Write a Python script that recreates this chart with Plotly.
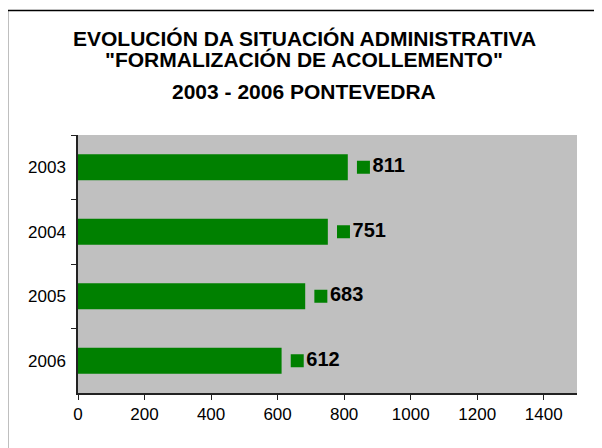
import plotly.graph_objects as go

# datos
anos = ["2003", "2004", "2005", "2006"]
valores = [811, 751, 683, 612]
titulo_lineas = [
    "EVOLUCIÓN DA SITUACIÓN ADMINISTRATIVA",
    "\"FORMALIZACIÓN DE ACOLLEMENTO\"",
    "2003 - 2006 PONTEVEDRA",
]
x_ticks = [0, 200, 400, 600, 800, 1000, 1200, 1400]

verde = "#008000"
gris = "#C0C0C0"
fuente = "Arial, Liberation Sans, sans-serif"

fig = go.Figure()

# barras
fig.add_trace(go.Bar(
    y=anos, x=valores, orientation="h",
    marker=dict(color=verde, line=dict(width=0)),
    width=0.4, showlegend=False, hoverinfo="x+y",
))

# etiqueta: cadro verde + valor
desfase = 47  # en unidades do eixo
fig.add_trace(go.Scatter(
    y=anos, x=[v + desfase for v in valores],
    mode="markers+text",
    marker=dict(symbol="square", size=13, color=verde),
    text=[f"<b>{v}</b>" for v in valores],
    textposition="middle right",
    textfont=dict(family=fuente, size=20, color="black"),
    showlegend=False, hoverinfo="skip",
))

# titulo en tres liñas (posicións en px da pantalla -> paper)
pos_y = [38.5, 59.5, 91.5]
for txt, py in zip(titulo_lineas, pos_y):
    fig.add_annotation(
        text=f"<b>{txt}</b>", xref="paper", yref="paper",
        x=(304 - 78) / 499, y=(393 - py) / 258,
        showarrow=False, xanchor="center", yanchor="middle",
        font=dict(family=fuente, size=21, color="black"),
    )

# marco do gráfico
fig.add_shape(
    type="rect", xref="paper", yref="paper",
    x0=(7.5 - 78) / 499, x1=(620 - 78) / 499,
    y0=(393 - 470) / 258, y1=(393 - 10.5) / 258,
    line=dict(color="black", width=1.5), fillcolor="rgba(0,0,0,0)", layer="below",
)

fig.update_xaxes(
    range=[0, 1500], tickvals=x_ticks, showgrid=False, zeroline=False,
    showline=True, linecolor="#222", linewidth=1.5,
    ticks="outside", ticklen=5, tickcolor="#222",
    tickfont=dict(family=fuente, size=17, color="black"),
)
fig.update_yaxes(
    categoryorder="array", categoryarray=anos, autorange="reversed",
    showgrid=False, zeroline=False, showline=True, linecolor="#222", linewidth=1.5,
    ticks="outside", ticklen=5, tickcolor="#222", tickson="boundaries",
    tickfont=dict(family=fuente, size=17, color="black"), ticklabelstandoff=7,
)

fig.update_layout(
    width=602, height=448,
    margin=dict(l=70, r=33, t=127, b=63),
    plot_bgcolor=gris, paper_bgcolor="white",
    bargap=0.6,
)

fig.write_html("out.html")
